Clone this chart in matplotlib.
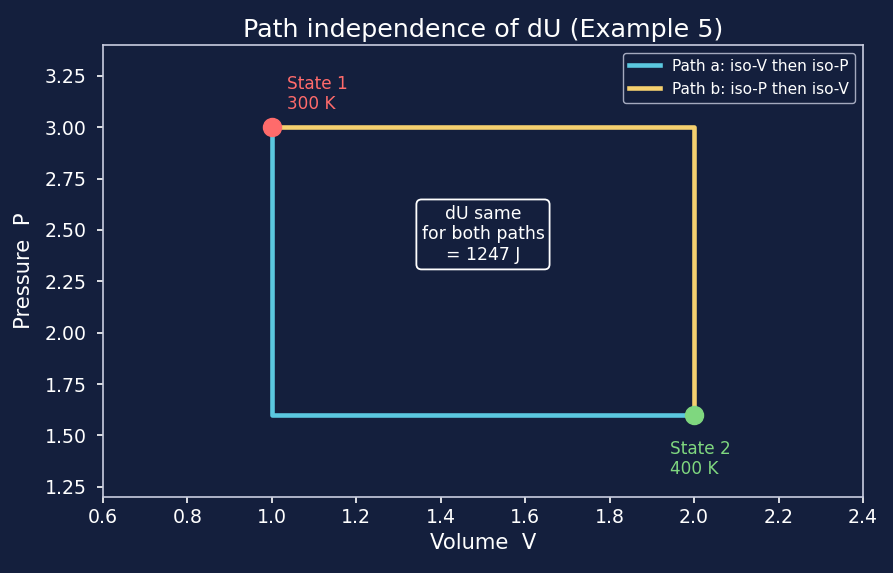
import numpy as np
import matplotlib
matplotlib.use('Agg')
import matplotlib.pyplot as plt

# states and path corners
v1, p1 = 1.0, 3.0
v2, p2 = 2.0, 1.6
path_a_v = [1.0, 1.0, 2.0]
path_a_p = [3.0, 1.6, 1.6]
path_b_v = [1.0, 2.0, 2.0]
path_b_p = [3.0, 3.0, 1.6]
dU = 1247

bg = '#141f3d'
fg = '#ffffff'
spine = '#c9cde0'

fig = plt.figure(figsize=(8.93, 5.73), dpi=100, facecolor=bg)
ax = fig.add_axes([0.1153, 0.1326, 0.8511, 0.7889], facecolor=bg)

ax.plot(path_a_v, path_a_p, color='#5bc8e0', lw=3.3, label='Path a: iso-V then iso-P', zorder=3)
ax.plot(path_b_v, path_b_p, color='#f5d06f', lw=3.3, label='Path b: iso-P then iso-V', zorder=3)
ax.plot(v1, p1, 'o', color='#ff6b6b', ms=13, zorder=4)
ax.plot(v2, p2, 'o', color='#7fd77f', ms=13, zorder=4)

ax.text(1.037, 3.07, 'State 1\n300 K', color='#ff6b6b', fontsize=12.2, va='bottom', ha='left',
        linespacing=1.15)
ax.text(1.943, 1.478, 'State 2\n400 K', color='#7fd77f', fontsize=12.2, va='top', ha='left',
        linespacing=1.15)
ax.text(1.5, 2.478, 'dU same\nfor both paths\n= %d J' % dU, color=fg, fontsize=12.4,
        ha='center', va='center', multialignment='center',
        bbox=dict(boxstyle='round,pad=0.3', fc=bg, ec=fg, lw=1.3))

ax.set_xlim(0.6, 2.4)
ax.set_ylim(1.2, 3.4)
ax.set_xticks(np.arange(0.6, 2.41, 0.2))
ax.set_yticks(np.arange(1.25, 3.26, 0.25))
ax.set_xlabel('Volume  V', color=fg, fontsize=15.2)
ax.set_ylabel('Pressure  P', color=fg, fontsize=15.2, labelpad=8)
ax.set_title('Path independence of dU (Example 5)', color=fg, fontsize=18.3)
ax.tick_params(colors=fg, labelsize=13.6, length=4.5, width=1.2)
ax.tick_params(axis='y', pad=7)
for s in ax.spines.values():
    s.set_color(spine)
    s.set_linewidth(1.2)

leg = ax.legend(loc='upper right', fontsize=11.1, facecolor=bg, edgecolor=spine, labelcolor=fg)

fig.savefig('out.png', dpi=100, facecolor=bg)
